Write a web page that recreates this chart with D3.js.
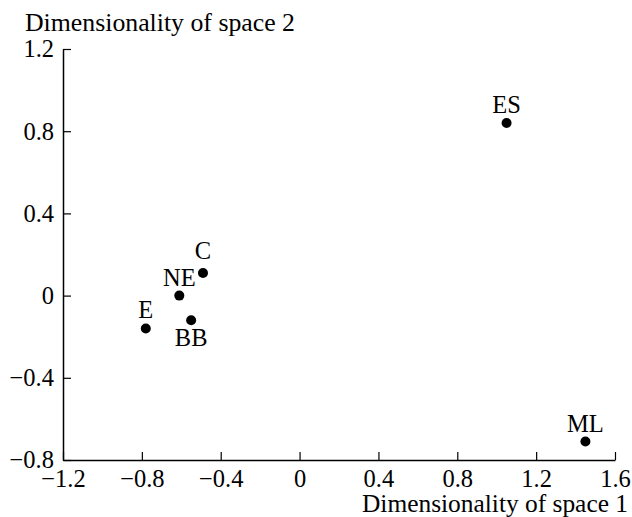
<!DOCTYPE html>
<html><head><meta charset="utf-8">
<script src="https://cdn.jsdelivr.net/npm/d3@7"></script>
<style>body{margin:0;background:#fff}svg{display:block}text{font-family:"Liberation Serif","DejaVu Serif",serif;fill:#000}</style>
</head><body><svg id="c" width="632" height="517"></svg>
<script>
const labels = ["ES","ML","C","NE","BB","E"];
const xValues = [1.05, 1.45, -0.49, -0.61, -0.55, -0.78];
const yValues = [0.84, -0.71, 0.11, 0.00, -0.12, -0.16];
const labelPos = ["above","above","above","above","below","above"];
const xTicks = [-1.2,-0.8,-0.4,0,0.4,0.8,1.2,1.6];
const yTicks = [-0.8,-0.4,0,0.4,0.8,1.2];
const xTitle = "Dimensionality of space 1";
const yTitle = "Dimensionality of space 2";

const svg = d3.select("#c");
const x = d3.scaleLinear().domain([-1.2,1.6]).range([63,615]);
const y = d3.scaleLinear().domain([-0.8,1.2]).range([460,49]);
const fmt = v => v === 0 ? "0" : (v < 0 ? "\u2212" : "") + Math.abs(v).toFixed(1);
const fs = 24.5;

const xa = svg.append("g").attr("transform","translate(0,460)")
  .call(d3.axisBottom(x).tickValues(xTicks).tickSizeInner(-8).tickSizeOuter(0).tickFormat(fmt));
const ya = svg.append("g").attr("transform","translate(63,0)")
  .call(d3.axisLeft(y).tickValues(yTicks).tickSizeInner(-8).tickSizeOuter(0).tickFormat(fmt));
[xa,ya].forEach(a=>{
  a.select(".domain").attr("stroke","#000").attr("stroke-width",1.5);
  a.selectAll(".tick line").attr("stroke","#000").attr("stroke-width",1.2);
  a.selectAll(".tick text").attr("font-family",'"Liberation Serif",serif').attr("font-size",fs).attr("fill","#000");
});
xa.selectAll(".tick text").attr("y",null).attr("dy",null).attr("transform","translate(0,27)");
ya.selectAll(".tick text").attr("x",-9).attr("dy","0.32em");

svg.append("text").attr("x",25).attr("y",31).attr("font-size",fs)
  .attr("textLength",270).attr("lengthAdjust","spacingAndGlyphs").text(yTitle);
svg.append("text").attr("x",628).attr("y",512).attr("text-anchor","end").attr("font-size",fs)
  .attr("textLength",266).attr("lengthAdjust","spacingAndGlyphs").text(xTitle);

const data = labels.map((l,i)=>({l, x:xValues[i], y:yValues[i], p:labelPos[i]}));
svg.append("g").selectAll("circle").data(data).join("circle")
  .attr("cx",d=>x(d.x)).attr("cy",d=>y(d.y)).attr("r",5).attr("fill","#000");
svg.append("g").selectAll("text").data(data).join("text")
  .attr("x",d=>x(d.x)).attr("y",d=>y(d.y) + (d.p==="below"?26:(d.l==="C"?-14:-10)))
  .attr("text-anchor","middle").attr("font-size",fs).text(d=>d.l);
</script></body></html>
